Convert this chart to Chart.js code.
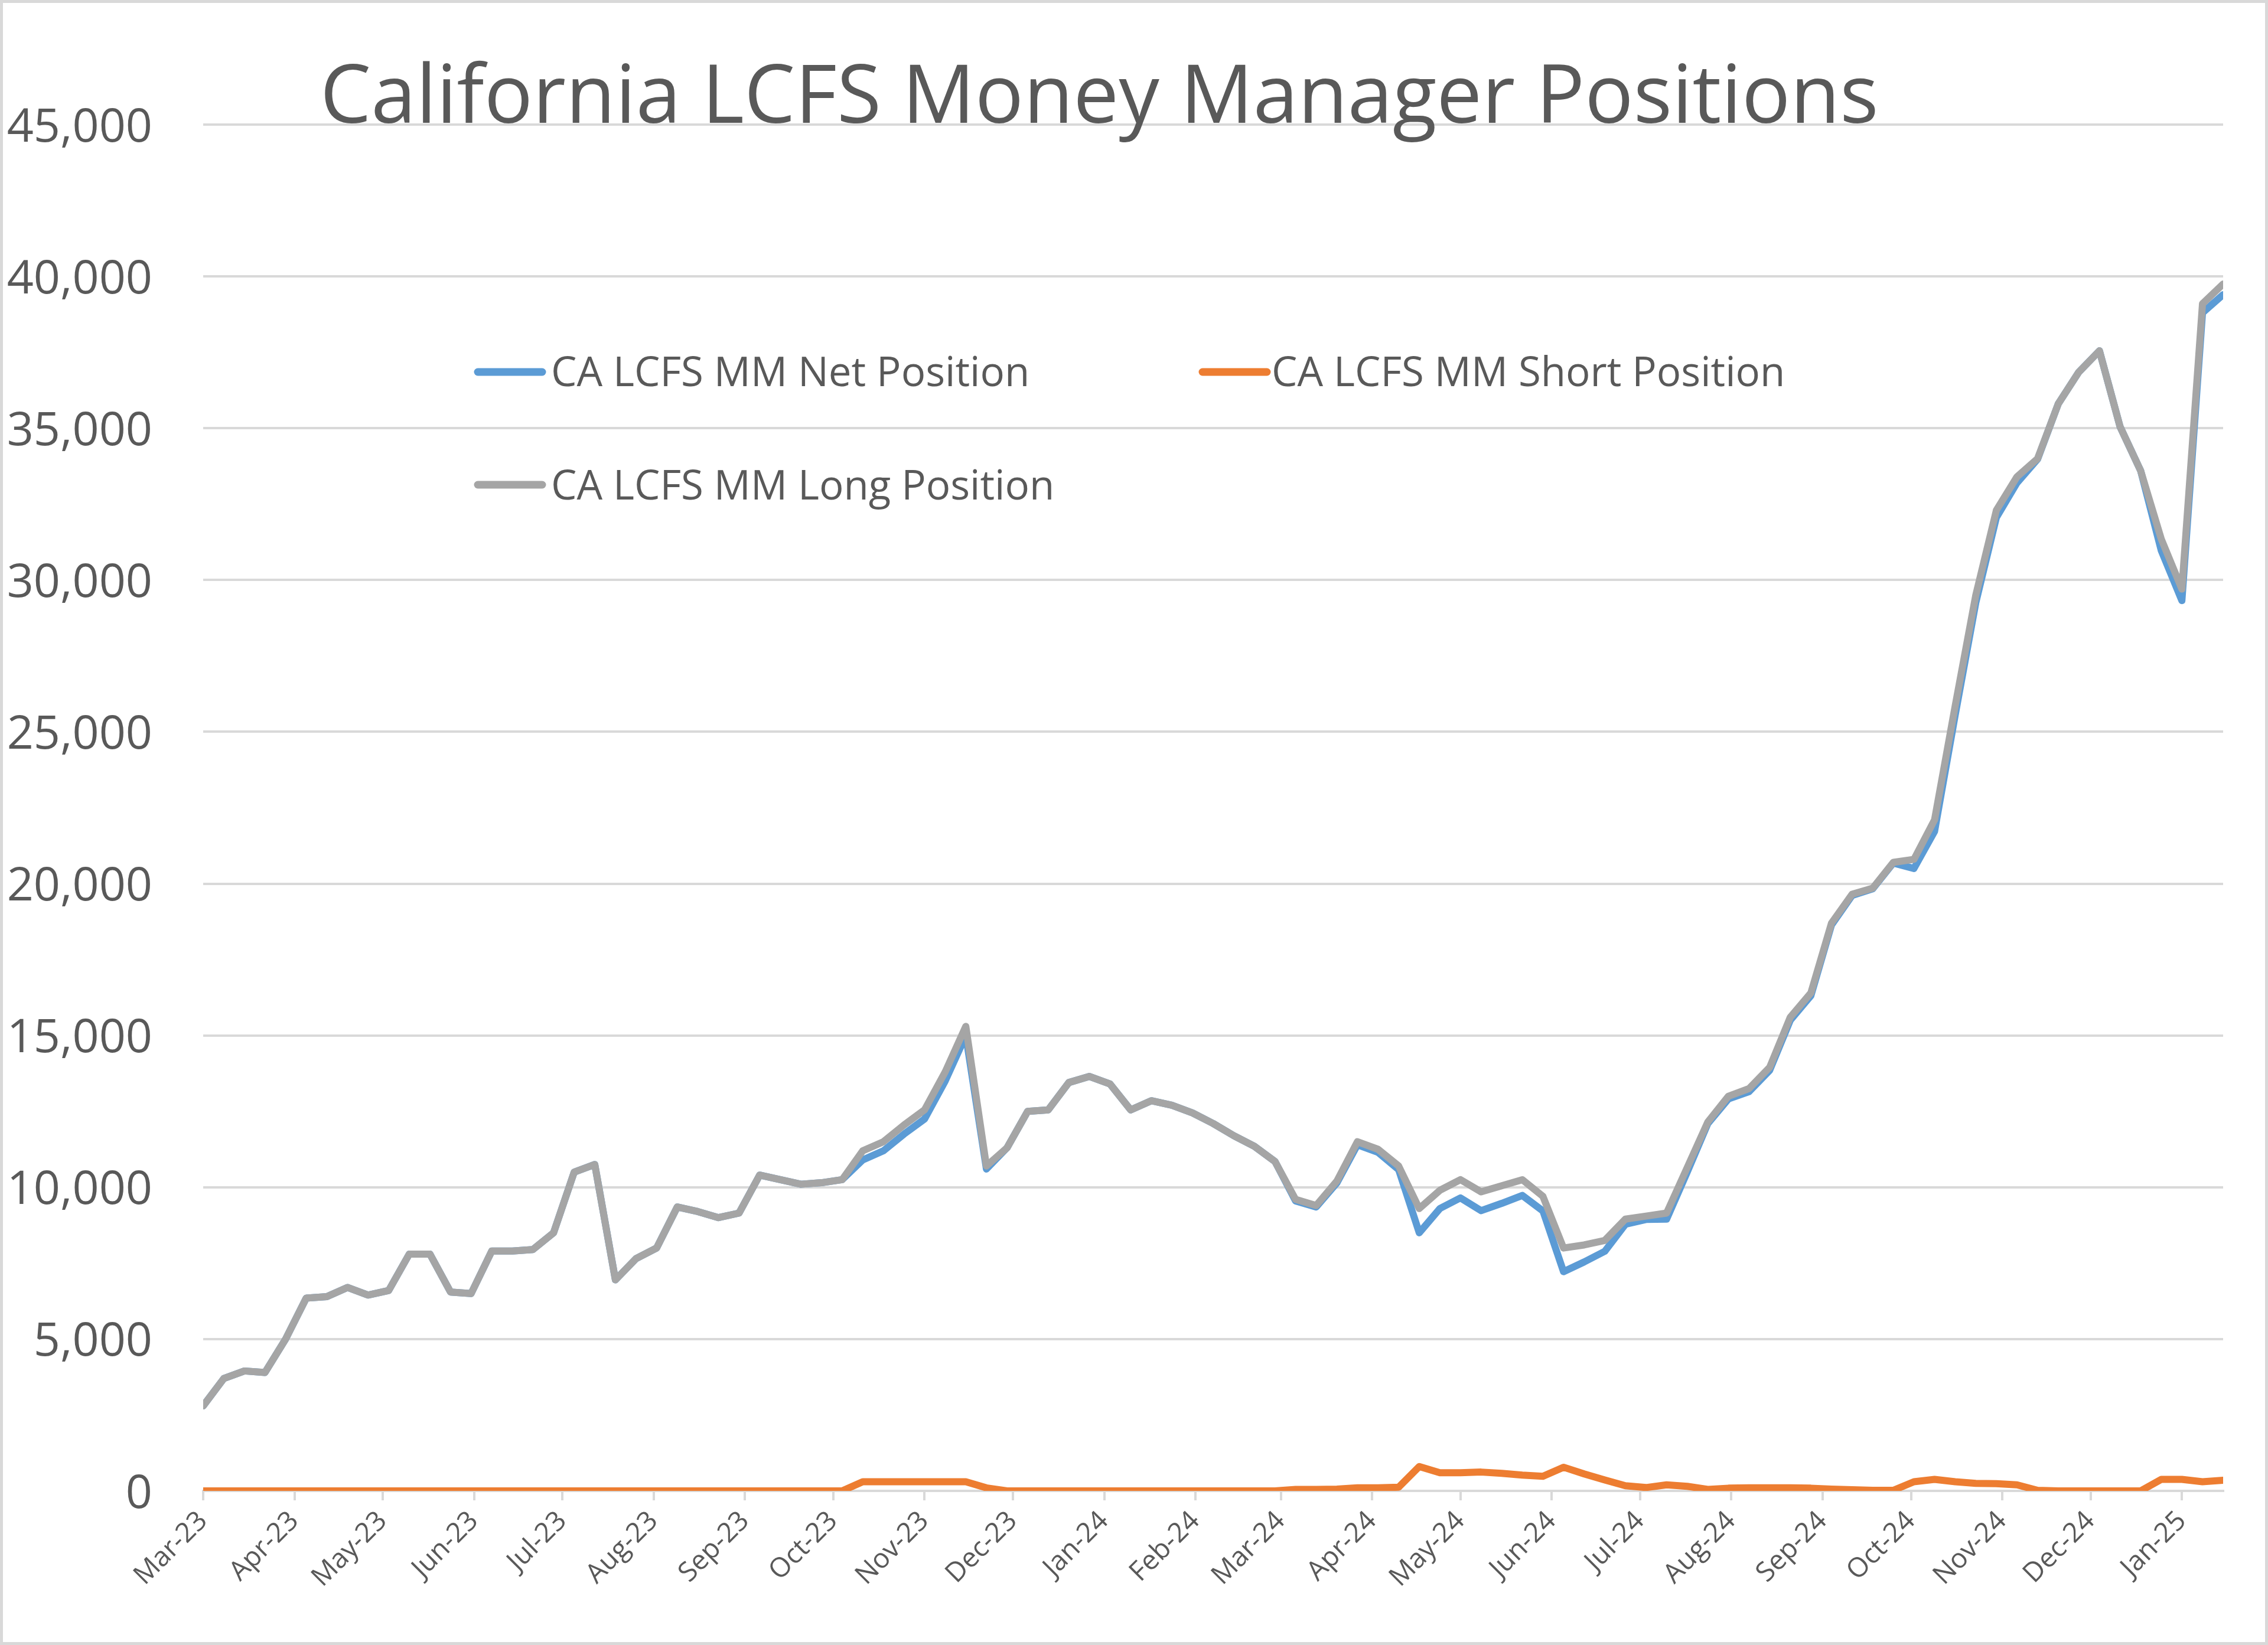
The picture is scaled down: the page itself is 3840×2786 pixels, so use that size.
<!DOCTYPE html>
<html>
<head>
<meta charset="utf-8">
<title>California LCFS Money Manager Positions</title>
<script src="https://cdn.jsdelivr.net/npm/chart.js@4.4.1/dist/chart.umd.min.js"></script>
<style>
  html, body { margin: 0; padding: 0; background: #ffffff; }
  #wrap { width: 3840px; height: 2786px; position: relative; }
</style>
</head>
<body>
<div id="wrap"><canvas id="chart" width="3840" height="2786"></canvas></div>
<script>
// ---------------- DATA ----------------
const chartTitle = 'California LCFS Money Manager Positions';
const seriesNames = ['CA LCFS MM Net Position', 'CA LCFS MM Short Position', 'CA LCFS MM Long Position'];

const weekDates = [
  '2023-03-01','2023-03-08','2023-03-15','2023-03-22','2023-03-29','2023-04-05','2023-04-12','2023-04-19','2023-04-26','2023-05-03',
  '2023-05-10','2023-05-17','2023-05-24','2023-05-31','2023-06-07','2023-06-14','2023-06-21','2023-06-28','2023-07-05','2023-07-12',
  '2023-07-19','2023-07-26','2023-08-02','2023-08-09','2023-08-16','2023-08-23','2023-08-30','2023-09-06','2023-09-13','2023-09-20',
  '2023-09-27','2023-10-04','2023-10-11','2023-10-18','2023-10-25','2023-11-01','2023-11-08','2023-11-15','2023-11-22','2023-11-29',
  '2023-12-06','2023-12-13','2023-12-20','2023-12-27','2024-01-03','2024-01-10','2024-01-17','2024-01-24','2024-01-31','2024-02-07',
  '2024-02-14','2024-02-21','2024-02-28','2024-03-06','2024-03-13','2024-03-20','2024-03-27','2024-04-03','2024-04-10','2024-04-17',
  '2024-04-24','2024-05-01','2024-05-08','2024-05-15','2024-05-22','2024-05-29','2024-06-05','2024-06-12','2024-06-19','2024-06-26',
  '2024-07-03','2024-07-10','2024-07-17','2024-07-24','2024-07-31','2024-08-07','2024-08-14','2024-08-21','2024-08-28','2024-09-04',
  '2024-09-11','2024-09-18','2024-09-25','2024-10-02','2024-10-09','2024-10-16','2024-10-23','2024-10-30','2024-11-06','2024-11-13',
  '2024-11-20','2024-11-27','2024-12-04','2024-12-11','2024-12-18','2024-12-25','2025-01-01','2025-01-08','2025-01-15'
];

const netPosition = [
  2800,3700,3950,3900,5000,6350,6400,6700,6450,6600,
  7800,7800,6550,6500,7900,7900,7950,8500,10500,10750,
  6950,7650,8000,9350,9200,9000,9150,10400,10250,10100,
  10150,10250,10900,11200,11750,12250,13500,15000,10600,11300,
  12500,12550,13450,13650,13400,12550,12850,12700,12450,12100,
  11700,11350,10850,9550,9350,10140,11400,11150,10580,8500,
  9300,9650,9230,9470,9730,9220,7220,7540,7890,8780,
  8940,8950,10500,12100,12910,13150,13850,15500,16310,18640,
  19610,19830,20680,20500,21720,25550,29250,32060,33200,33980,
  35800,36850,37550,35050,33600,30970,29320,38800,39400
];

const shortPosition = [
  0,0,0,0,0,0,0,0,0,0,
  0,0,0,0,0,0,0,0,0,0,
  0,0,0,0,0,0,0,0,0,0,
  0,0,300,300,300,300,300,300,100,0,
  0,0,0,0,0,0,0,0,0,0,
  0,0,0,50,50,60,100,100,120,800,
  600,600,620,580,520,480,780,560,360,170,
  110,200,150,50,90,100,100,100,90,60,
  40,20,20,300,380,300,250,240,200,20,
  0,0,0,0,0,380,380,300,350
];

const longPosition = [
  2800,3700,3950,3900,5000,6350,6400,6700,6450,6600,
  7800,7800,6550,6500,7900,7900,7950,8500,10500,10750,
  6950,7650,8000,9350,9200,9000,9150,10400,10250,10100,
  10150,10250,11200,11500,12050,12550,13800,15300,10700,11300,
  12500,12550,13450,13650,13400,12550,12850,12700,12450,12100,
  11700,11350,10850,9600,9400,10200,11500,11250,10700,9300,
  9900,10250,9850,10050,10250,9700,8000,8100,8250,8950,
  9050,9150,10650,12150,13000,13250,13950,15600,16400,18700,
  19650,19850,20700,20800,22100,25850,29500,32300,33400,34000,
  35800,36850,37550,35050,33600,31350,29700,39100,39750
];

const monthTickDates = [
  '2023-03-01','2023-04-01','2023-05-01','2023-06-01','2023-07-01','2023-08-01','2023-09-01','2023-10-01',
  '2023-11-01','2023-12-01','2024-01-01','2024-02-01','2024-03-01','2024-04-01','2024-05-01','2024-06-01',
  '2024-07-01','2024-08-01','2024-09-01','2024-10-01','2024-11-01','2024-12-01','2025-01-01'
];
const monthTickLabels = [
  'Mar-23','Apr-23','May-23','Jun-23','Jul-23','Aug-23','Sep-23','Oct-23',
  'Nov-23','Dec-23','Jan-24','Feb-24','Mar-24','Apr-24','May-24','Jun-24',
  'Jul-24','Aug-24','Sep-24','Oct-24','Nov-24','Dec-24','Jan-25'
];

const seriesColors = ['#5B9BD5', '#ED7D31', '#A5A5A5'];

// ---------------- HELPERS ----------------
const EPOCH = Date.UTC(2023, 2, 1);
function dayNumber(s) {
  const p = s.split('-').map(Number);
  return (Date.UTC(p[0], p[1] - 1, p[2]) - EPOCH) / 86400000;
}
const xDays = weekDates.map(dayNumber);
const tickDays = monthTickDates.map(dayNumber);
function pts(values) { return values.map((v, i) => ({ x: xDays[i], y: v })); }

const TEXT = '#595959';
const GRID = '#D9D9D9';
const FONT = '"Open Sans", "DejaVu Sans", sans-serif';

// ---------------- PLUGINS ----------------
const bgPlugin = {
  id: 'bg',
  beforeDraw(chart) {
    const c = chart.ctx;
    c.save();
    c.fillStyle = '#ffffff';
    c.fillRect(0, 0, chart.width, chart.height);
    c.restore();
  },
  afterDraw(chart) {
    const c = chart.ctx;
    c.save();
    c.strokeStyle = GRID;
    c.lineWidth = 5;
    c.strokeRect(2.5, 2.5, chart.width - 5, chart.height - 5);
    c.restore();
  }
};

const titleLegendPlugin = {
  id: 'titleLegend',
  afterDraw(chart) {
    const c = chart.ctx;
    c.save();
    // title
    c.fillStyle = TEXT;
    c.font = '137px ' + FONT;
    c.textAlign = 'left';
    c.textBaseline = 'alphabetic';
    c.fillText(chartTitle, 542, 208);
    // legend
    const items = [
      { idx: 0, lx: 809, tx: 933, ly: 630, by: 654 },
      { idx: 1, lx: 2036, tx: 2153, ly: 630, by: 654 },
      { idx: 2, lx: 809, tx: 933, ly: 821, by: 846 }
    ];
    c.font = '69px ' + FONT;
    items.forEach(it => {
      c.strokeStyle = seriesColors[it.idx];
      c.lineWidth = 13;
      c.lineCap = 'round';
      c.beginPath();
      c.moveTo(it.lx, it.ly);
      c.lineTo(it.lx + 109, it.ly);
      c.stroke();
      c.fillStyle = TEXT;
      c.fillText(seriesNames[it.idx], it.tx, it.by);
    });
    c.restore();
  }
};

// ---------------- CHART ----------------
const lineStyle = {
  borderWidth: 12,
  pointRadius: 0,
  pointHoverRadius: 0,
  tension: 0,
  borderJoinStyle: 'round',
  borderCapStyle: 'round',
  fill: false
};

new Chart(document.getElementById('chart'), {
  type: 'line',
  data: {
    datasets: [
      Object.assign({ label: seriesNames[0], data: pts(netPosition), borderColor: seriesColors[0], backgroundColor: seriesColors[0], order: 3 }, lineStyle),
      Object.assign({ label: seriesNames[1], data: pts(shortPosition), borderColor: seriesColors[1], backgroundColor: seriesColors[1], order: 2 }, lineStyle),
      Object.assign({ label: seriesNames[2], data: pts(longPosition), borderColor: seriesColors[2], backgroundColor: seriesColors[2], order: 1 }, lineStyle)
    ]
  },
  options: {
    responsive: false,
    maintainAspectRatio: false,
    devicePixelRatio: 1,
    animation: false,
    layout: { padding: { top: 211, right: 76, left: 0, bottom: 0 } },
    plugins: {
      legend: { display: false },
      title: { display: false },
      tooltip: { enabled: false }
    },
    scales: {
      x: {
        type: 'linear',
        min: xDays[0],
        max: xDays[xDays.length - 1],
        afterBuildTicks(axis) { axis.ticks = tickDays.map(v => ({ value: v })); },
        afterFit(axis) { axis.height = 261; },
        grid: { drawOnChartArea: false, drawTicks: true, tickLength: 16, color: GRID, lineWidth: 4 },
        border: { display: true, color: GRID, width: 4 },
        ticks: {
          autoSkip: false,
          minRotation: 45,
          maxRotation: 45,
          padding: 8,
          color: TEXT,
          font: { family: FONT, size: 46 },
          callback(value, index) { return monthTickLabels[index]; }
        }
      },
      y: {
        min: 0,
        max: 45000,
        afterFit(axis) { axis.width = 344; },
        grid: { drawTicks: false, color: GRID, lineWidth: 4 },
        border: { display: false },
        ticks: {
          stepSize: 5000,
          padding: 86,
          labelOffset: 6,
          color: TEXT,
          font: { family: FONT, size: 79 },
          callback(value) { return Number(value).toLocaleString('en-US'); }
        }
      }
    }
  },
  plugins: [bgPlugin, titleLegendPlugin]
});
</script>
</body>
</html>
